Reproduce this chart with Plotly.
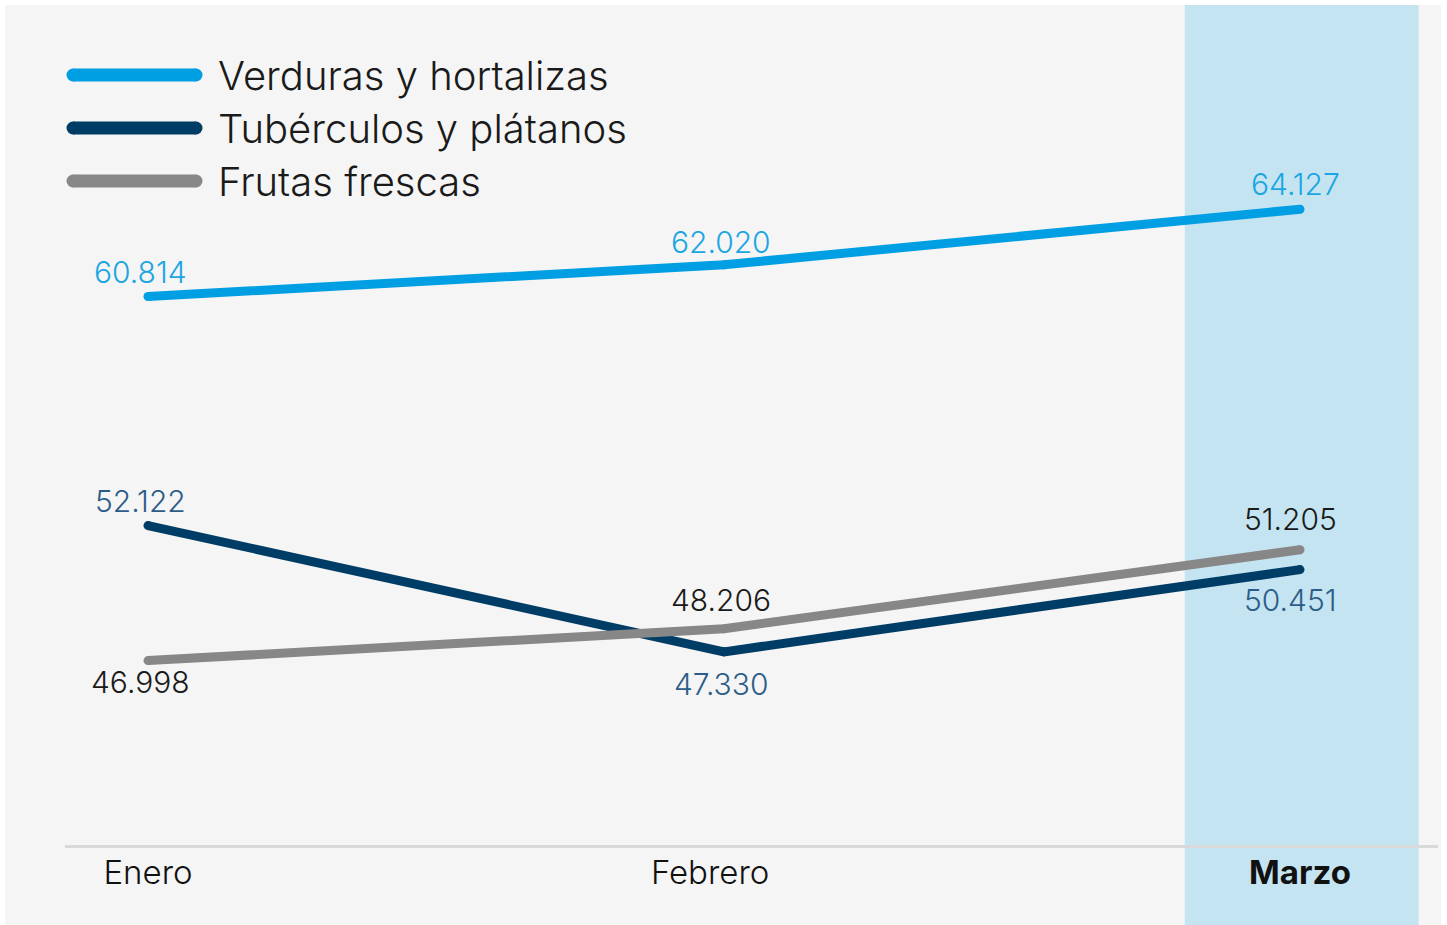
import plotly.graph_objects as go

months = ["Enero", "Febrero", "Marzo"]
tick_labels = ["Enero", "Febrero&nbsp;&nbsp;&nbsp;", "<b>Marzo</b>"]
verduras = [60.814, 62.020, 64.127]
tuberculos = [52.122, 47.330, 50.451]
frutas = [46.998, 48.206, 51.205]
series_names = ["Verduras y hortalizas", "Tubérculos y plátanos", "Frutas frescas"]

line_colors = ["#009fe3", "#003d66", "#878787"]
text_colors = ["#1ba6e2", "#2c5d88", "#1a1a1a"]
# label offsets in pixels (style only)
label_yshift = [[25, 23, 25], [25, -32, -30], [-21, 29, 31]]
label_xshift = [[-8, -3, -5], [-8, -3, -10], [-8, -3, -10]]

def fmt(v):
    return f"{v:.3f}"

FONT = "Inter"
xpos = list(range(len(months)))

fig = go.Figure()
annotations = []
for vals, name, lc, tc, ys, xs in zip([verduras, tuberculos, frutas], series_names,
                                      line_colors, text_colors, label_yshift, label_xshift):
    fig.add_trace(go.Scatter(
        x=xpos, y=vals, name=name, mode="lines+markers",
        line=dict(color=lc, width=9),
        marker=dict(color=lc, size=9),
        showlegend=False, cliponaxis=False, hoverinfo="x+y",
    ))
    for xi, v, dy, dx in zip(xpos, vals, ys, xs):
        annotations.append(dict(x=xi, y=v, xref="x", yref="y", text=fmt(v), showarrow=False,
                                xanchor="center", yanchor="middle", yshift=dy, xshift=dx,
                                font=dict(family=FONT, size=30, color=tc, weight=300)))

# plot area geometry (pixels)
L, R, T, B = 65, 9, 5, 80
W, H = 1447, 925
pw, ph = W - L - R, H - T - B

def px_x(p):
    return (p - L) / pw

def px_y(p):
    return (H - B - p) / ph

shapes = [
    dict(type="rect", xref="paper", yref="paper", x0=px_x(5), x1=px_x(1441),
         y0=px_y(925), y1=1, fillcolor="#f5f5f5", line=dict(width=0), layer="below"),
    dict(type="rect", xref="x", yref="paper", x0=1.80, x1=2.206,
         y0=px_y(925), y1=1, fillcolor="#c5e4f1", line=dict(width=0), layer="below"),
]
legend_y = [75, 128, 181]
for name, lc, ly in zip(series_names, line_colors, legend_y):
    shapes.append(dict(type="line", xref="paper", yref="paper", x0=px_x(73), x1=px_x(196),
                       y0=px_y(ly), y1=px_y(ly), line=dict(color=lc, width=13)))
    for cx in (73, 196):
        shapes.append(dict(type="circle", xref="paper", yref="paper",
                           xsizemode="pixel", ysizemode="pixel",
                           xanchor=px_x(cx), yanchor=px_y(ly),
                           x0=-6.5, x1=6.5, y0=-6.5, y1=6.5,
                           fillcolor=lc, line=dict(width=0)))
    annotations.append(dict(xref="paper", yref="paper", x=px_x(216), y=px_y(ly),
                            xanchor="left", yanchor="middle", showarrow=False, text=name,
                            font=dict(family=FONT, size=40, color="#1a1a1a", weight=300)))

fig.update_layout(
    width=W, height=H,
    margin=dict(l=L, r=R, t=T, b=B),
    paper_bgcolor="white", plot_bgcolor="rgba(0,0,0,0)",
    shapes=shapes, annotations=annotations,
    xaxis=dict(range=[(65 - 148) / 576, (1438 - 148) / 576], tickvals=xpos, ticktext=tick_labels,
               showgrid=False, zeroline=False, showline=True, linecolor="#d9d9d9", linewidth=3,
               ticks="", ticklabelstandoff=-4,
               tickfont=dict(family=FONT, size=33, color="#111111", weight=300)),
    yaxis=dict(range=[40, 40 + 840 / 26.35], showgrid=False, zeroline=False,
               showticklabels=False, ticks=""),
)

fig.write_html("out.html", config={"displayModeBar": False},
               post_script="document.body.style.margin='0';")
